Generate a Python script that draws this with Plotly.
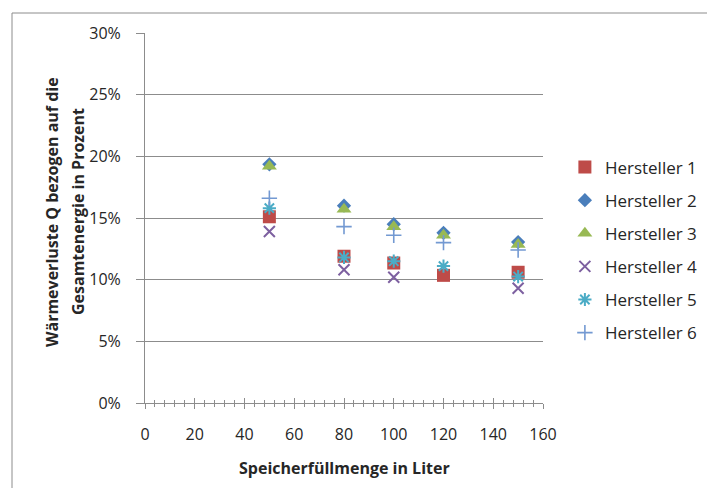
import plotly.graph_objects as go

# Speicherfüllmenge (Liter)
volumes = [50, 80, 100, 120, 150]

# Wärmeverluste in Prozent je Hersteller
hersteller_1 = [15.1, 11.9, 11.35, 10.35, 10.6]
hersteller_2 = [19.35, 16.0, 14.5, 13.8, 13.05]
hersteller_3 = [19.2, 15.7, 14.3, 13.6, 12.85]
hersteller_4 = [13.9, 10.8, 10.2, None, 9.3]
hersteller_5 = [15.8, 11.8, 11.5, 11.1, 10.25]
hersteller_6 = [16.6, 14.3, 13.6, 13.0, 12.4]

series_names = ["Hersteller 1", "Hersteller 2", "Hersteller 3",
                "Hersteller 4", "Hersteller 5", "Hersteller 6"]
series_values = [hersteller_1, hersteller_2, hersteller_3,
                 hersteller_4, hersteller_5, hersteller_6]

y_tickvals = [0, 5, 10, 15, 20, 25, 30]
y_ticklabels = ["0%", "5%", "10%", "15%", "20%", "25%", "30%"]
x_tickvals = [0, 20, 40, 60, 80, 100, 120, 140, 160]

y_title_lines = ["Wärmeverluste Q bezogen auf die", "Gesamtenergie in Prozent"]
x_title = "Speicherfüllmenge in Liter"

styles = [
    dict(symbol="square", size=13, color="#BE4B48"),
    dict(symbol="diamond", size=11, color="#4A7EBB"),
    dict(symbol="triangle-up", size=13, color="#98B954"),
    dict(symbol="x-thin-open", size=11, color="#7D60A0", line=dict(width=2, color="#7D60A0")),
    dict(symbol="asterisk-open", size=11, color="#4BACC6", line=dict(width=2, color="#4BACC6")),
    dict(symbol="cross-thin-open", size=11, color="#7399D2", line=dict(width=1.6, color="#7399D2")),
]

FONT = "Open Sans"
GRID = "#8C8C8C"
TEXT = "#262626"

fig = go.Figure()
for i, (name, vals, st) in enumerate(zip(series_names, series_values, styles)):
    fig.add_trace(go.Scatter(
        x=volumes, y=vals, mode="markers", name=name,
        marker=st, legendgroup=f"g{i}", cliponaxis=False,
    ))

# empty trace so the overlay axis (upper half of the crossing ticks) is drawn
fig.add_trace(go.Scatter(x=[], y=[], xaxis="x2", showlegend=False, hoverinfo="skip"))

fig.update_layout(
    width=707, height=488,
    margin=dict(l=145, r=164, t=33, b=85, autoexpand=False),
    paper_bgcolor="white", plot_bgcolor="white",
    font=dict(family=FONT, size=16, color=TEXT),
    showlegend=True,
    legend=dict(
        x=1.055, xanchor="left", y=0.685, yanchor="top",
        font=dict(family=FONT, size=17, color=TEXT),
        tracegroupgap=8, itemsizing="trace",
        bgcolor="rgba(0,0,0,0)",
    ),
    xaxis=dict(
        range=[0, 160], tickvals=x_tickvals, showgrid=False, zeroline=False,
        showline=True, linecolor=GRID, linewidth=1,
        ticks="outside", ticklen=5, tickcolor=GRID, tickwidth=1,
        minor=dict(dtick=4, ticks="outside", ticklen=3, tickcolor=GRID, tickwidth=1, showgrid=False),
        ticklabelstandoff=12,
        tickfont=dict(family=FONT, size=16, color=TEXT),
    ),
    xaxis2=dict(
        range=[0, 160], overlaying="x", anchor="y", side="bottom",
        tickvals=x_tickvals, showticklabels=False, showgrid=False, zeroline=False,
        showline=False, ticks="inside", ticklen=5, tickcolor=GRID, tickwidth=1,
        minor=dict(dtick=4, ticks="inside", ticklen=3, tickcolor=GRID, tickwidth=1, showgrid=False),
    ),
    yaxis=dict(
        range=[0, 30], tickvals=y_tickvals, ticktext=y_ticklabels,
        showgrid=True, gridcolor=GRID, gridwidth=1, zeroline=False,
        showline=True, linecolor=GRID, linewidth=1,
        ticks="outside", ticklen=8, tickcolor=GRID, tickwidth=1,
        ticklabelstandoff=12,
        tickfont=dict(family=FONT, size=16, color=TEXT),
    ),
)

# x-axis title
fig.add_annotation(
    text=f"<b>{x_title}</b>", xref="paper", yref="paper",
    x=0.5, y=(403 - 468) / 370, xanchor="center", yanchor="middle",
    showarrow=False, font=dict(family=FONT, size=16, color=TEXT),
)

# two-line rotated y-axis title
for line, px in zip(y_title_lines, [52, 78]):
    fig.add_annotation(
        text=f"<b>{line}</b>", xref="paper", yref="paper",
        x=(px - 145) / 398, y=(403 - 212) / 370, xanchor="center", yanchor="middle",
        textangle=-90, showarrow=False,
        font=dict(family=FONT, size=16, color=TEXT),
    )

# chart frame
fig.add_shape(
    type="rect", xref="paper", yref="paper",
    x0=(12 - 145) / 398, x1=(730 - 145) / 398,
    y0=(403 - 520) / 370, y1=(403 - 13) / 370,
    line=dict(color="#8C8C8C", width=1), fillcolor="rgba(0,0,0,0)", layer="below",
)

fig.write_html("out.html")
